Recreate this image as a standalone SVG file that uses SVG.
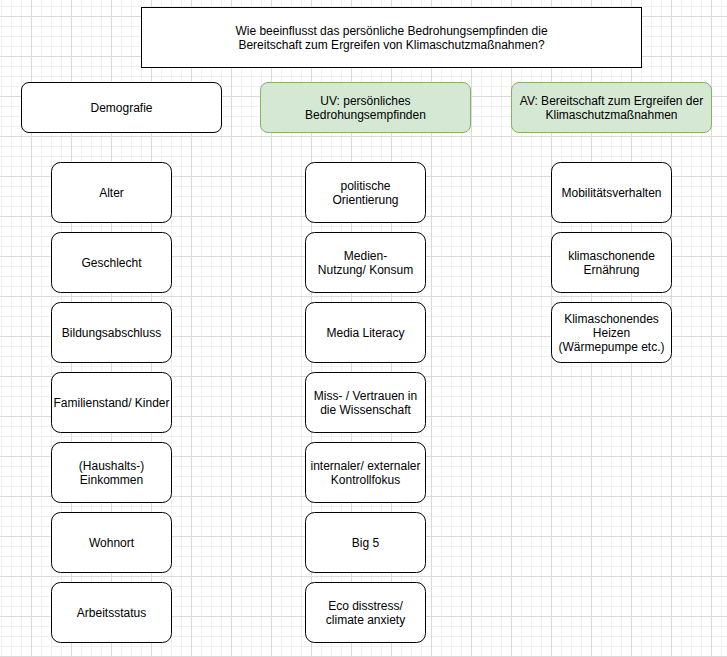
<svg xmlns="http://www.w3.org/2000/svg" width="727" height="657" viewBox="0 0 727 657">
<style>
text{font-family:"Liberation Sans",Arial,sans-serif;font-size:12px;fill:#000;text-anchor:middle}
.b{fill:#fff;stroke:#000;stroke-width:1}
.g{fill:#d5e8d4;stroke:#82b366;stroke-width:1}
.mi{stroke:#f0f0f0;stroke-width:1}
.ma{stroke:#dadada;stroke-width:1}
</style>
<defs>
<pattern id="grid" x="1" y="6" width="40" height="40" patternUnits="userSpaceOnUse">
<path class="mi" d="M0.5 0V40M10.5 0V40M20.5 0V40M0 0.5H40M0 20.5H40M0 30.5H40"/>
<path class="ma" d="M30.5 0V40M0 10.5H40"/>
</pattern>
</defs>
<rect width="727" height="657" fill="#fff"/>
<rect width="727" height="657" fill="url(#grid)"/>
<g id="connectors"/>
<g id="title"><rect class="b" x="141.5" y="7.5" width="500" height="60"/><text x="391.5" y="35">Wie beeinflusst das persönliche Bedrohungsempfinden die</text><text x="391.5" y="49">Bereitschaft zum Ergreifen von Klimaschutzmaßnahmen?</text></g>
<g id="demografie"><rect class="b" x="21.5" y="82.5" width="200" height="50" rx="7.5"/><text x="121.5" y="111.8">Demografie</text></g>
<g id="uv"><rect class="g" x="260.5" y="82.5" width="210" height="50" rx="7.5"/><text x="365.5" y="104.8">UV: persönliches</text><text x="365.5" y="118.8">Bedrohungsempfinden</text></g>
<g id="av"><rect class="g" x="511.5" y="82.5" width="200" height="50" rx="7.5"/><text x="611.5" y="104.8">AV: Bereitschaft zum Ergreifen der</text><text x="611.5" y="118.8">Klimaschutzmaßnahmen</text></g>
<g id="alter"><rect class="b" x="51.5" y="162.5" width="120" height="60" rx="9"/><text x="111.5" y="196.8">Alter</text></g>
<g id="geschlecht"><rect class="b" x="51.5" y="232.5" width="120" height="60" rx="9"/><text x="111.5" y="266.8">Geschlecht</text></g>
<g id="bildung"><rect class="b" x="51.5" y="302.5" width="120" height="60" rx="9"/><text x="111.5" y="336.8">Bildungsabschluss</text></g>
<g id="familie"><rect class="b" x="51.5" y="372.5" width="120" height="60" rx="9"/><text x="111.5" y="406.8">Familienstand/ Kinder</text></g>
<g id="einkommen"><rect class="b" x="51.5" y="442.5" width="120" height="60" rx="9"/><text x="111.5" y="469.8">(Haushalts-)</text><text x="111.5" y="483.8">Einkommen</text></g>
<g id="wohnort"><rect class="b" x="51.5" y="512.5" width="120" height="60" rx="9"/><text x="111.5" y="546.8">Wohnort</text></g>
<g id="arbeit"><rect class="b" x="51.5" y="582.5" width="120" height="60" rx="9"/><text x="111.5" y="616.8">Arbeitsstatus</text></g>
<g id="politik"><rect class="b" x="305.5" y="162.5" width="120" height="60" rx="9"/><text x="365.5" y="189.8">politische</text><text x="365.5" y="203.8">Orientierung</text></g>
<g id="medien"><rect class="b" x="305.5" y="232.5" width="120" height="60" rx="9"/><text x="365.5" y="259.8">Medien-</text><text x="365.5" y="273.8">Nutzung/ Konsum</text></g>
<g id="literacy"><rect class="b" x="305.5" y="302.5" width="120" height="60" rx="9"/><text x="365.5" y="336.8">Media Literacy</text></g>
<g id="vertrauen"><rect class="b" x="305.5" y="372.5" width="120" height="60" rx="9"/><text x="365.5" y="399.8">Miss- / Vertrauen in</text><text x="365.5" y="413.8">die Wissenschaft</text></g>
<g id="kontroll"><rect class="b" x="305.5" y="442.5" width="120" height="60" rx="9"/><text x="365.5" y="469.8">internaler/ externaler</text><text x="365.5" y="483.8">Kontrollfokus</text></g>
<g id="big5"><rect class="b" x="305.5" y="512.5" width="120" height="60" rx="9"/><text x="365.5" y="546.8">Big 5</text></g>
<g id="eco"><rect class="b" x="305.5" y="582.5" width="120" height="60" rx="9"/><text x="365.5" y="609.8">Eco disstress/</text><text x="365.5" y="623.8">climate anxiety</text></g>
<g id="mobil"><rect class="b" x="551.5" y="162.5" width="120" height="60" rx="9"/><text x="611.5" y="196.8">Mobilitätsverhalten</text></g>
<g id="ernaehrung"><rect class="b" x="551.5" y="232.5" width="120" height="60" rx="9"/><text x="611.5" y="259.8">klimaschonende</text><text x="611.5" y="273.8">Ernährung</text></g>
<g id="heizen"><rect class="b" x="551.5" y="302.5" width="120" height="60" rx="9"/><text x="611.5" y="322.8">Klimaschonendes</text><text x="611.5" y="336.8">Heizen</text><text x="611.5" y="350.8">(Wärmepumpe etc.)</text></g>
</svg>
